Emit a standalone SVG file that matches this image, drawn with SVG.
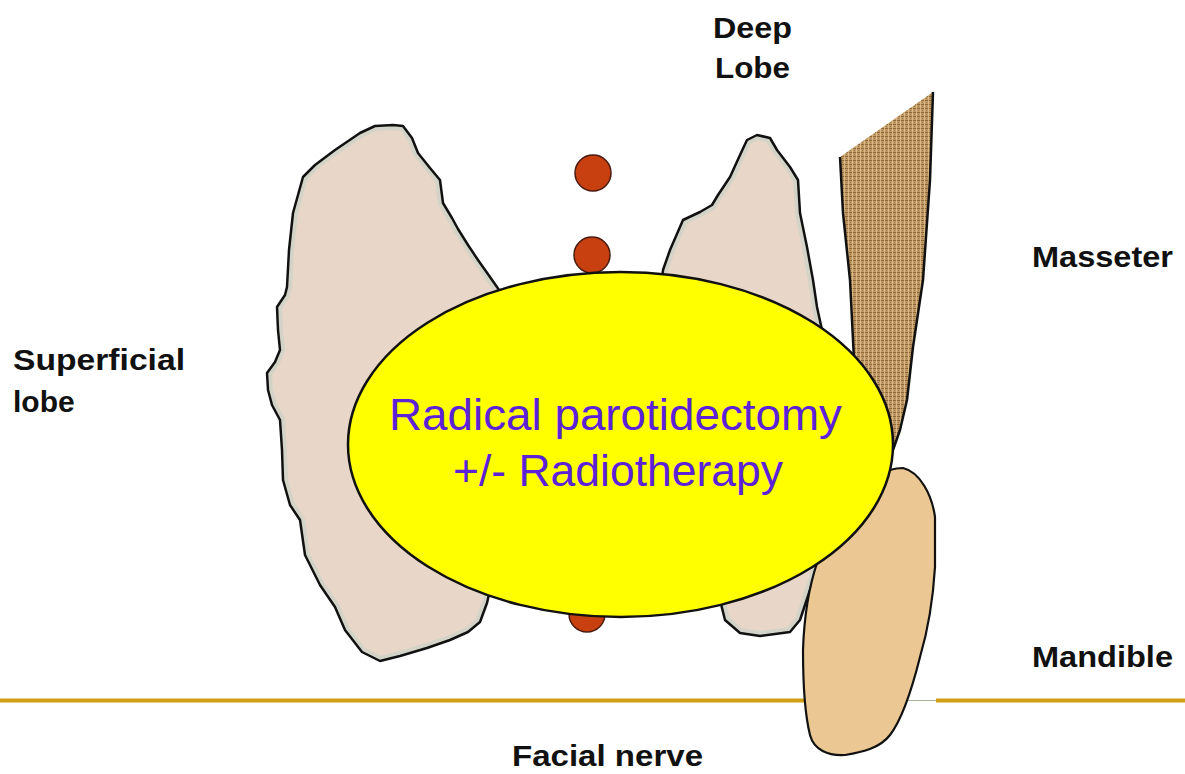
<svg xmlns="http://www.w3.org/2000/svg" width="1185" height="774" viewBox="0 0 1185 774">
  <style>
    .lbl { font-family: "Liberation Sans", Arial, sans-serif; font-weight: bold; font-size: 30px; fill: #111; }
    .core { font-family: "Liberation Sans", Arial, sans-serif; font-size: 45px; fill: #5B22D8; text-anchor: middle; }
    .outline { fill: none; stroke: #111; stroke-width: 2.5; stroke-linejoin: round; }
    .gland { fill: #E8D6C8; }
    .rim { fill: none; stroke: #D4D3C8; stroke-width: 10; }
    .node-dot { fill: #C8400F; stroke: #4A1A10; stroke-width: 1.5; }
  </style>
  <defs>
    <!-- burlap-like weave for the muscle -->
    <pattern id="weave" width="4" height="4" patternUnits="userSpaceOnUse">
      <rect width="4" height="4" fill="#C29C68"/>
      <rect y="0" width="4" height="1" fill="#8E6838"/>
      <rect x="0" width="1" height="4" fill="#E2C18C" opacity="0.8"/>
      <rect x="2" y="2" width="1" height="1" fill="#9C7440"/>
    </pattern>
    <path id="superficial-shape" d="M393,125 L403,126 L412,138 L418,153 L430,168 L440,180 L443,203 L452,218 L458,229 L468,245 L478,260 L490,277 L520,320 L520,560 L490,590 L487,603 L480,622 L468,632 L450,640 L427,648 L400,656 L380,661 L362,652 L345,630 L335,607 L320,585 L305,555 L300,520 L290,505 L283,480 L282,450 L280,420 L272,405 L268,390 L267,373 L275,362 L280,350 L278,330 L277,307 L285,295 L287,287 L289,250 L293,213 L298,195 L303,177 L315,165 L335,150 L360,133 L375,126 Z"/>
    <path id="deep-shape" d="M757,135 L770,138 L777,150 L790,167 L798,180 L800,213 L807,247 L813,280 L817,307 L822,330 L830,420 L820,560 L800,620 L790,632 L760,636 L740,633 L725,620 L720,600 L700,560 L660,300 L663,270 L670,250 L683,220 L700,212 L712,205 L718,195 L730,177 L740,155 L747,140 Z"/>
    <clipPath id="clip-superficial"><use href="#superficial-shape"/></clipPath>
    <clipPath id="clip-deep"><use href="#deep-shape"/></clipPath>
  </defs>

  <rect width="1185" height="774" fill="#FFFFFF"/>

  <!-- facial nerve plane -->
  <g id="connectors">
    <line x1="0" y1="700.5" x2="860" y2="700.5" stroke="#D1A014" stroke-width="4"/>
    <line x1="900" y1="700.5" x2="936" y2="700.5" stroke="#A8B296" stroke-width="1.2"/>
    <line x1="936" y1="700.5" x2="1185" y2="700.5" stroke="#D1A014" stroke-width="4"/>
  </g>

  <!-- superficial lobe -->
  <g id="superficial-lobe">
    <use href="#superficial-shape" class="gland"/>
    <use href="#superficial-shape" class="rim" clip-path="url(#clip-superficial)"/>
    <use href="#superficial-shape" class="outline"/>
  </g>

  <!-- deep lobe -->
  <g id="deep-lobe">
    <use href="#deep-shape" class="gland"/>
    <use href="#deep-shape" class="rim" clip-path="url(#clip-deep)"/>
    <use href="#deep-shape" class="outline"/>
  </g>

  <!-- masseter muscle -->
  <g id="masseter">
    <path d="M840,157 L933,92 L930,180 L923,280 L913,347 L907,400 L900,430 L893,450 L870,470 L855,380 L853,340 L850,280 L843,213 Z" fill="url(#weave)"/>
    <path d="M840,157 L843,213 L850,280 L853,340 L856,400" class="outline" stroke-width="2"/>
    <path d="M933,92 L930,180 L923,280 L913,347 L907,400 L900,430 L893,450" class="outline" stroke-width="2"/>
  </g>

  <!-- mandible -->
  <g id="mandible">
    <path d="M903,468 C920,472 932,495 935,517 L935,567 C933,600 928,630 920,657 C913,685 903,718 890,735 C880,748 863,752 845,755 C828,756 814,750 810,735 C805,715 803,680 803,650 C804,620 808,590 817,563 C830,520 865,468 903,468 Z" fill="#EBC893" stroke="#111" stroke-width="2.2"/>
  </g>

  <!-- nodes -->
  <g id="node-1"><circle cx="593" cy="173" r="18" class="node-dot"/></g>
  <g id="node-2"><circle cx="592" cy="255" r="18" class="node-dot"/></g>
  <g id="node-3"><circle cx="587" cy="614" r="18" class="node-dot"/></g>

  <!-- tumour / treatment -->
  <g id="treatment">
    <ellipse cx="620.5" cy="444.5" rx="272.5" ry="172.5" fill="#FFFF00" stroke="#111" stroke-width="2.5"/>
    <text class="core" x="615.5" y="430" textLength="453" lengthAdjust="spacingAndGlyphs">Radical parotidectomy</text>
    <text class="core" x="618" y="486" textLength="330" lengthAdjust="spacingAndGlyphs">+/- Radiotherapy</text>
  </g>

  <!-- labels -->
  <g id="label-deep-lobe">
    <text class="lbl" x="713" y="38" textLength="79" lengthAdjust="spacingAndGlyphs">Deep</text>
    <text class="lbl" x="715" y="78" textLength="75" lengthAdjust="spacingAndGlyphs">Lobe</text>
  </g>
  <g id="label-superficial-lobe">
    <text class="lbl" x="13" y="370" textLength="172" lengthAdjust="spacingAndGlyphs">Superficial</text>
    <text class="lbl" x="13" y="412">lobe</text>
  </g>
  <g id="label-masseter">
    <text class="lbl" x="1032" y="267" textLength="141" lengthAdjust="spacingAndGlyphs">Masseter</text>
  </g>
  <g id="label-mandible">
    <text class="lbl" x="1032" y="667" textLength="141" lengthAdjust="spacingAndGlyphs">Mandible</text>
  </g>
  <g id="label-facial-nerve">
    <text class="lbl" x="512" y="766" textLength="191" lengthAdjust="spacingAndGlyphs">Facial nerve</text>
  </g>
</svg>
